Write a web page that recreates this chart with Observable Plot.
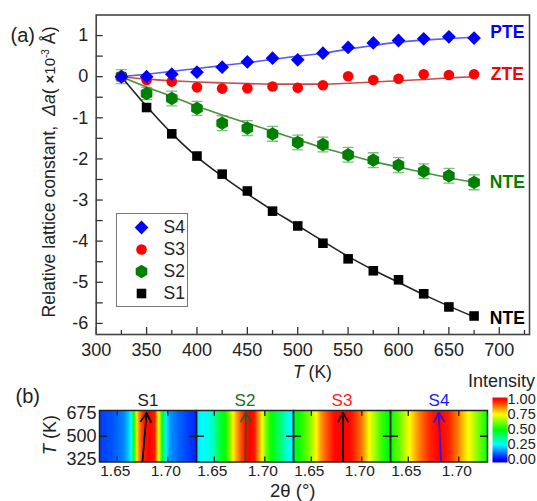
<!DOCTYPE html>
<html>
<head>
<meta charset="utf-8">
<script src="https://cdn.jsdelivr.net/npm/d3@7"></script>
<script src="https://cdn.jsdelivr.net/npm/@observablehq/plot@0.6"></script>
<style>
html,body{margin:0;padding:0;background:#fff;}
#chart{position:relative;width:537px;height:501px;overflow:hidden;font-family:"Liberation Sans",Arial,sans-serif;color:#222;}
#chart svg{position:absolute;}
.lab{position:absolute;white-space:nowrap;line-height:1;}
</style>
</head>
<body>
<div id="chart"></div>
<script>
const temperatures=[325,350,375,400,425,450,475,500,525,550,575,600,625,650,675];
const s4Values=[0,0,.06,.11,.23,.36,.45,.41,.57,.71,.82,.88,.92,.97,.94];
const s3Values=[0,-.08,-.12,-.26,-.29,-.28,-.24,-.27,-.21,.01,-.08,-.05,.06,.04,.06];
const s2Values=[0,-.41,-.53,-.77,-1.13,-1.25,-1.39,-1.6,-1.65,-1.9,-2.03,-2.15,-2.3,-2.41,-2.57];
const s1Values=[0,-.75,-1.39,-1.93,-2.37,-2.78,-3.27,-3.63,-4.05,-4.43,-4.72,-4.94,-5.28,-5.6,-5.82];
const s4Fit=[0,.06,.13,.2,.27,.34,.42,.5,.57,.67,.76,.84,.89,.93,.96];
const s3Fit=[0,-.06,-.1,-.13,-.15,-.17,-.18,-.18,-.18,-.16,-.13,-.1,-.07,-.03,0];
const s2Fit=[0,-.25,-.48,-.72,-.93,-1.13,-1.33,-1.53,-1.73,-1.9,-2.06,-2.2,-2.33,-2.46,-2.57];
const s1Fit=[0,-.72,-1.38,-1.95,-2.42,-2.85,-3.25,-3.62,-4,-4.37,-4.7,-5,-5.3,-5.58,-5.84];
const s2Err=[.17,.15,.18,.17,.18,.18,.18,.18,.18,.18,.18,.18,.18,.18,.18];
const seriesNames=["S4","S3","S2","S1"];
const seriesColors=["#0000ff","#ff0000","#008000","#000000"];
const fitColors=["#5a5aff","#c94a4a","#4a8f3a","#222222"];
const seriesSymbols=["diamond2","circle","hexagon","square"];
const seriesRadius=[6.2,5.3,5.8,5.4];
const annotationNames=["PTE","ZTE","NTE","NTE"];
const annotationColors=["#0000ff","#ff0000","#008000","#000000"];
const annotationY=[1.08,.05,-2.57,-5.88];
const annotationX=708;

const theta1=[1.6324,1.6448,1.6563,1.6612,1.6638,1.6661,1.6683,1.671,1.6759,1.6814,1.6873,1.6896,1.6915,1.6945,1.6978,1.702,1.7102,1.7284];
const int1=[.06,.08,.13,.2,.27,.45,.7,.85,.97,1,.97,.8,.7,.5,.25,.15,.1,.03];
const theta2=[1.6324,1.6376,1.6442,1.6491,1.6556,1.6621,1.667,1.6703,1.6752,1.6801,1.685,1.6899,1.6932,1.6965,1.7014,1.7079,1.7144,1.721,1.7284];
const int2=[.22,.25,.27,.32,.45,.52,.7,.8,.9,.98,1,.98,.87,.77,.6,.48,.4,.3,.22];
const theta3=[1.6324,1.6416,1.6481,1.6546,1.6595,1.6661,1.6726,1.6808,1.6889,1.6955,1.702,1.7069,1.7134,1.72,1.7284];
const int3=[.45,.55,.62,.75,.85,.93,.99,1,.99,.93,.85,.75,.65,.55,.47];
const theta4=[1.6324,1.6409,1.6491,1.6533,1.6605,1.6703,1.6801,1.6899,1.6997,1.7063,1.7112,1.7193,1.7284];
const int4=[.5,.6,.72,.78,.87,.96,1,.97,.87,.78,.73,.62,.5];
const panelNames=["S1","S2","S3","S4"];
const panelColors=["#222222","#1f6b1f","#ff1a1a","#1a1aff"];
const arrowColors=["#000000","#1f5f1f","#000000","#2a14e0"];
const arrowBottom=[1.6749,1.6808,1.6814,1.6824];
const arrowTop=[1.6791,1.6814,1.6814,1.6801];
const intensityStops=[0,.25,.5,.75,1];
const intensityColors=["#0000ff","#00ffff","#00ff00","#ffff00","#ff0000"];
const xTicksMajor=[300,350,400,450,500,550,600,650,700];
const xTicksMinor=[325,375,425,475,525,575,625,675,725];
const yTicksMajor=[1,0,-1,-2,-3,-4,-5,-6];
const yTicksAll=[1,.5,0,-.5,-1,-1.5,-2,-2.5,-3,-3.5,-4,-4.5,-5,-5.5,-6];

const font='"Liberation Sans",Arial,sans-serif';
const chart=document.getElementById("chart");
function place(svg,left,top){svg.style.left=left+"px";svg.style.top=top+"px";chart.appendChild(svg);}
function label(html,left,top,size,extra){
  const d=document.createElement("div");d.className="lab";d.innerHTML=html;
  d.style.left=left+"px";d.style.top=top+"px";d.style.fontSize=size+"px";
  if(extra)Object.assign(d.style,extra);chart.appendChild(d);
}
const valuesBySeries=[s4Values,s3Values,s2Values,s1Values];
const fitsBySeries=[s4Fit,s3Fit,s2Fit,s1Fit];
const points=[],fits=[];
seriesNames.forEach((s,i)=>temperatures.forEach((t,j)=>{
  points.push({s,t,v:valuesBySeries[i][j]});
  fits.push({s,t,v:fitsBySeries[i][j]});
}));
const errRows=temperatures.map((t,j)=>({t,lo:s2Values[j]-s2Err[j],hi:s2Values[j]+s2Err[j]}));
const capShape={draw(c,l){c.moveTo(0,0);c.lineTo(0,-l);}};
const annotations=annotationNames.map((n,i)=>({n,c:annotationColors[i],y:annotationY[i]}));

const main=Plot.plot({
  width:537,height:370,marginLeft:95.7,marginRight:8,marginTop:14.5,marginBottom:36,
  style:{fontFamily:font,background:"transparent",color:"#222"},
  x:{domain:[300,730]},
  y:{domain:[-6.27,1.5]},
  color:{domain:seriesNames,range:seriesColors},
  symbol:{domain:seriesNames,range:seriesSymbols},
  marks:[
    Plot.axisX({ticks:xTicksMajor,tickSize:-7,text:null,label:null,stroke:"#333",strokeWidth:1.3}),
    Plot.axisX({ticks:xTicksMinor,tickSize:-4,text:null,label:null,stroke:"#333",strokeWidth:1.3}),
    Plot.axisX({ticks:xTicksMajor,tickSize:0,tickPadding:9,label:null,fontSize:18,tickFormat:d=>String(d)}),
    Plot.axisY({ticks:yTicksAll,tickSize:-7,text:null,label:null,stroke:"#333",strokeWidth:1.3}),
    Plot.axisY({ticks:yTicksMajor,tickSize:0,tickPadding:8,label:null,fontSize:18,tickFormat:d=>String(d)}),
    Plot.ruleX(errRows,{x:"t",y1:"lo",y2:"hi",stroke:"#5aa85a",strokeWidth:1.2}),
    Plot.vector(errRows,{x:"t",y:"lo",rotate:90,length:10,anchor:"middle",shape:capShape,stroke:"#7cbf7c",strokeWidth:1.3}),
    Plot.vector(errRows,{x:"t",y:"hi",rotate:90,length:10,anchor:"middle",shape:capShape,stroke:"#7cbf7c",strokeWidth:1.3}),
    ...seriesNames.map((s,i)=>Plot.line(fits.filter(d=>d.s===s),{x:"t",y:"v",stroke:fitColors[i],strokeWidth:1.6,curve:"monotone-x"})),
    ...[3,2,1,0].map(i=>Plot.dot(points.filter(d=>d.s===seriesNames[i]),{x:"t",y:"v",symbol:"s",fill:"s",r:seriesRadius[i]})),
    Plot.text(annotations,{x:()=>annotationX,y:"y",text:"n",fill:"c",fontSize:17.5,fontWeight:"bold"}),
    Plot.frame({stroke:"#444",strokeWidth:1.6})
  ]
});
place(main,0,0);

const legendSvg=Plot.plot({
  width:70,height:92,marginLeft:0,marginRight:0,marginTop:12,marginBottom:12,
  style:{fontFamily:font,background:"#fff",color:"#222",border:"1px solid #777",boxSizing:"content-box"},
  x:{axis:null,domain:[0,1]},
  y:{type:"point",padding:0,domain:seriesNames,axis:null},
  color:{domain:seriesNames,range:seriesColors},
  symbol:{domain:seriesNames,range:seriesSymbols},
  marks:[
    ...seriesNames.map((s,i)=>Plot.dot([s],{y:d=>d,frameAnchor:"left",dx:24,symbol:d=>d,fill:d=>d,r:seriesRadius[i]})),
    Plot.text(seriesNames,{y:d=>d,text:d=>d,frameAnchor:"left",dx:46,textAnchor:"start",fontSize:17.5,fill:"#222"})
  ]
});
place(legendSvg,116,213);

const thetas=[theta1,theta2,theta3,theta4],ints=[int1,int2,int3,int4];
const heat=[];
panelNames.forEach((p,i)=>[300,700].forEach(T=>thetas[i].forEach((th,j)=>heat.push({p,T,th,v:ints[i][j]}))));
const arrows=panelNames.map((p,i)=>({p,c:arrowColors[i],x1:arrowBottom[i],x2:arrowTop[i],y1:308,y2:682}));
const panels=panelNames.map((p,i)=>({p,c:panelColors[i]}));
const sideTick={draw(c,l){c.moveTo(0,0);c.lineTo(0,-l);}};

const bottom=Plot.plot({
  width:537,height:131,marginLeft:97.3,marginRight:48,marginTop:40,marginBottom:39.5,
  style:{fontFamily:font,background:"transparent",color:"#222"},
  fx:{domain:panelNames,padding:0,axis:null},
  x:{domain:[1.6324,1.7284]},
  y:{domain:[300,700]},
  color:{type:"linear",domain:intensityStops,range:intensityColors,clamp:true},
  marks:[
    Plot.raster(heat,{x:"th",y:"T",fill:"v",fx:"p",interpolate:"barycentric",x1:1.6324,x2:1.7284,y1:300,y2:700}),
    Plot.axisX({ticks:[1.65,1.7],tickSize:-5,text:null,label:null,anchor:"bottom",stroke:"#222",strokeWidth:1.3}),
    Plot.axisX({ticks:[1.65,1.7],tickSize:-5,text:null,label:null,anchor:"top",stroke:"#222",strokeWidth:1.3}),
    Plot.axisX({ticks:[1.65,1.7],tickSize:0,tickPadding:3,dx:-2,label:null,anchor:"bottom",fontSize:15.5,tickFormat:d3.format(".2f")}),
    Plot.axisY({ticks:[325,500,675],tickSize:0,tickPadding:3,label:null,fontSize:18,tickFormat:d=>String(d)}),
    Plot.vector([500],{y:d=>d,frameAnchor:"left",rotate:90,length:7,anchor:"start",shape:sideTick,stroke:"#222",strokeWidth:1.3}),
    Plot.vector([500],{y:d=>d,frameAnchor:"right",rotate:-90,length:7,anchor:"start",shape:sideTick,stroke:"#222",strokeWidth:1.3}),
    Plot.arrow(arrows,{x1:"x1",y1:"y1",x2:"x2",y2:"y2",stroke:"c",fx:"p",bend:0,strokeWidth:1.7,headLength:9}),
    Plot.text(panels,{fx:"p",text:"p",fill:"c",frameAnchor:"top",dy:-17,fontSize:17}),
    Plot.frame({stroke:"#222",strokeWidth:1.5})
  ]
});
place(bottom,0,370);

const levels=[0,.25,.5,.75,1];
const bar=Plot.plot({
  width:45.3,height:85,marginLeft:0,marginRight:30.3,marginTop:10,marginBottom:10,
  style:{fontFamily:font,background:"transparent",color:"#222"},
  x:{domain:[0,1],axis:null},
  y:{domain:[-.05,1.033]},
  color:{type:"linear",domain:intensityStops,range:intensityColors,clamp:true},
  marks:[
    Plot.raster({fill:(x,y)=>y,x1:0,x2:1,y1:-.05,y2:1.033,pixelSize:1}),
    Plot.axisY({ticks:levels,anchor:"right",tickSize:0,tickPadding:0,label:null,fontSize:14.5,tickFormat:d3.format(".2f")})
  ]
});
place(bar,491.7,387);

label("(a)",10.5,25,20);
label("(b)",15.5,386,20);
label("<i>T</i> (K)",293,364,17.5);
label("2θ (°)",270,482,18.5);
label("Intensity",468,372,18);
label("Relative lattice constant,&nbsp;&nbsp;<i>Δa</i>( <span style='font-size:15px'><b>×</b>10<sup style='font-size:10px'>-3</sup></span> Å)",50,172,17.7,{transform:"translate(-50%,-50%) rotate(-90deg)"});
label("<i>T</i> (K)",50,435,18,{transform:"translate(-50%,-50%) rotate(-90deg)"});
</script>
</body>
</html>
